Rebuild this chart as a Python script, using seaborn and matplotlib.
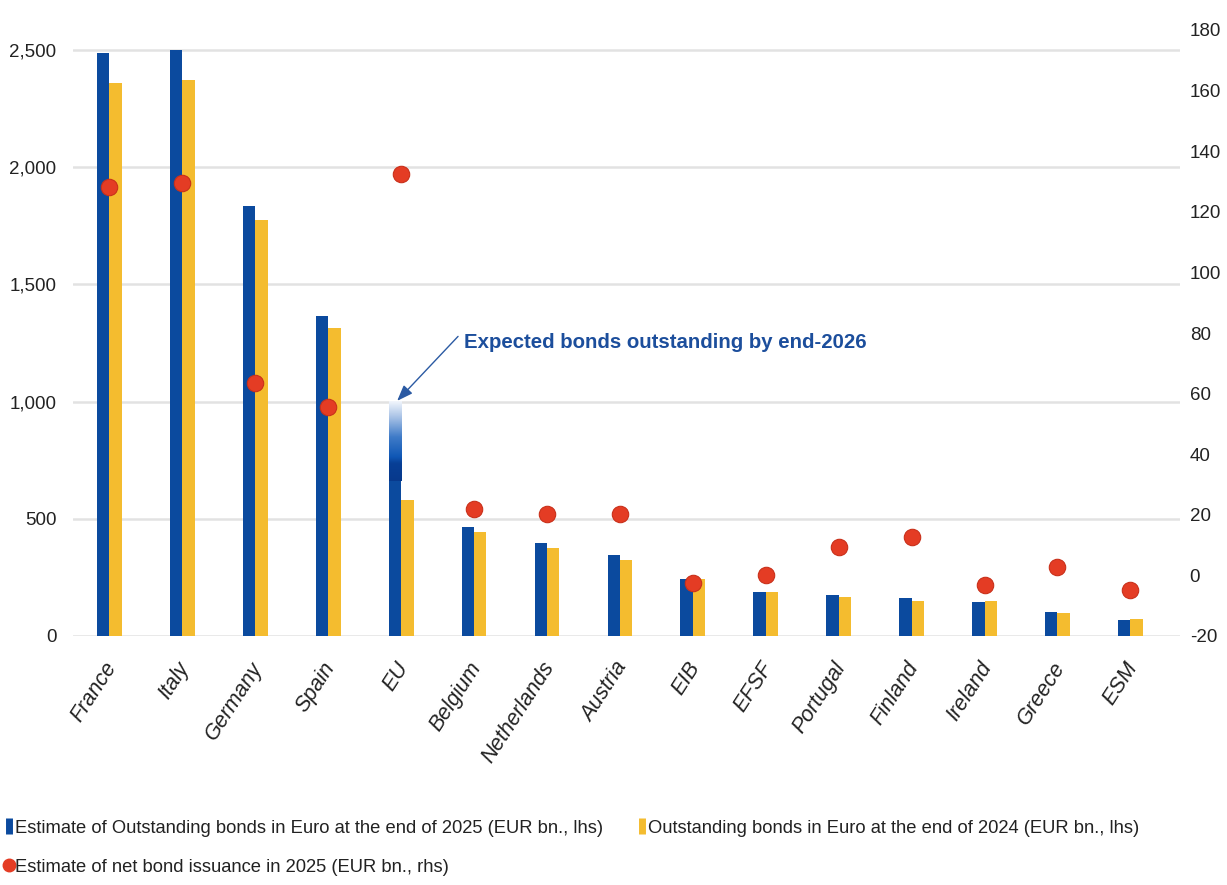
import numpy as np
import pandas as pd
import matplotlib
matplotlib.use("Agg")
import matplotlib.pyplot as plt
import seaborn as sns
from matplotlib.lines import Line2D
from matplotlib.colors import LinearSegmentedColormap
from matplotlib.transforms import ScaledTranslation

# ---------------- data ----------------
categories = ["France", "Italy", "Germany", "Spain", "EU", "Belgium", "Netherlands",
              "Austria", "EIB", "EFSF", "Portugal", "Finland", "Ireland", "Greece", "ESM"]
outstanding_2025 = [2486, 2500, 1836, 1366, 665, 466, 396, 345, 242, 187, 175, 163, 144, 101, 68]
outstanding_2024 = [2358, 2372, 1775, 1313, 580, 445, 375, 324, 245, 187, 168, 149, 149, 99, 74]
net_issuance_2025 = [128.3, 129.4, 63.4, 55.7, 132.4, 21.8, 20.3, 20.3, -2.6, 0.1, 9.5, 12.8, -3.2, 2.7, -4.8]
eu_expected_2026 = 1000
left_ticks = [0, 500, 1000, 1500, 2000, 2500]
right_ticks = [-20, 0, 20, 40, 60, 80, 100, 120, 140, 160, 180]

lab_2025 = "Estimate of Outstanding bonds in Euro at the end of 2025 (EUR bn., lhs)"
lab_2024 = "Outstanding bonds in Euro at the end of 2024 (EUR bn., lhs)"
lab_net = "Estimate of net bond issuance in 2025 (EUR bn., rhs)"
annot = "Expected bonds outstanding by end-2026"

BLUE = "#0B4A9E"
YELLOW = "#F4BC2F"
RED = "#E43C24"
GRID = "#E2E2E2"
TEXT = "#222222"

sns.set_theme(style="white")
plt.rcParams['font.family'] = ['Liberation Sans', 'DejaVu Sans']

fig = plt.figure(figsize=(12.27, 8.85), dpi=100)
ax = fig.add_axes([73/1227, 1-636/885, (1180-73)/1227, (636-30)/885])

df = pd.DataFrame({
    "country": categories * 2,
    "value": outstanding_2025 + outstanding_2024,
    "series": [lab_2025]*len(categories) + [lab_2024]*len(categories),
})
sns.barplot(data=df, x="country", y="value", hue="series", order=categories,
            hue_order=[lab_2025, lab_2024], palette=[BLUE, YELLOW],
            width=0.34, gap=0, dodge=True, saturation=1, errorbar=None,
            legend=False, ax=ax, zorder=3, linewidth=0, edgecolor="none")

# EU gradient extension (expected end-2026)
eu_i = categories.index("EU")
bar_w = 0.17
cmap = LinearSegmentedColormap.from_list("g", [
    (0.0, "#07398C"), (0.22, "#083F96"), (0.3, "#0F57B5"), (0.55, "#3F7BC8"),
    (0.8, "#A8C2E6"), (1.0, "#F2F6FC")])
grad = np.linspace(0, 1, 256).reshape(-1, 1)
ax.imshow(grad, cmap=cmap, origin="lower", aspect="auto", zorder=3,
          extent=[eu_i - bar_w, eu_i, outstanding_2025[eu_i] - 2, eu_expected_2026])

ax.set_xlim(-0.5, 14.68)
ax.set_ylim(0, 2585)
ax.set_yticks(left_ticks)
ax.set_yticklabels([f"{v:,}" for v in left_ticks])
ax.yaxis.grid(True, color=GRID, linewidth=1.8, zorder=0)
ax.xaxis.grid(False)
for s in ax.spines.values():
    s.set_visible(False)
ax.tick_params(axis="y", length=0, pad=12, labelsize=13.5, labelcolor=TEXT)
ax.tick_params(axis="x", length=0, pad=16, labelsize=15.5, labelcolor=TEXT)
ax.set_xticks(range(len(categories)))
ax.set_xticklabels(categories, rotation=57, ha="right", rotation_mode="anchor",
                   fontstyle="italic")
shift = ScaledTranslation(-6/100, 0, fig.dpi_scale_trans)
for lbl in ax.get_xticklabels():
    lbl.set_transform(lbl.get_transform() + shift)
ax.set_xlabel("")
ax.set_ylabel("")

# right axis: net issuance dots
ax2 = ax.twinx()
sns.scatterplot(x=np.arange(len(categories)), y=net_issuance_2025, ax=ax2,
                color=RED, s=140, marker="o", edgecolor="#C9301A", linewidth=0.8,
                zorder=5, legend=False)
ax2.set_ylim(-20, 180)
ax2.set_yticks(right_ticks)
ax2.set_yticklabels([str(v) for v in right_ticks])
ax2.tick_params(axis="y", length=0, pad=7, labelsize=13.5, labelcolor=TEXT)
ax2.grid(False)
for s in ax2.spines.values():
    s.set_visible(False)
ax2.set_zorder(ax.get_zorder() + 1)
ax2.patch.set_visible(False)

# annotation
ax.text(4.86, 1250, annot, color="#1C4E9C", fontsize=14.7, fontweight="bold",
        va="center", ha="left", zorder=6)
ax.annotate("", xy=(eu_i - bar_w/2 + 0.03, 1003), xytext=(4.78, 1278),
            arrowprops=dict(arrowstyle="-|>,head_length=0.8,head_width=0.3",
                            color="#2B5AA3", lw=1.0, shrinkA=0, shrinkB=0), zorder=6)

# legend
handles = [
    Line2D([], [], linestyle="none", marker="|", markersize=11, markeredgewidth=5,
           color=BLUE, label=lab_2025),
    Line2D([], [], linestyle="none", marker="o", markersize=9,
           markerfacecolor=RED, markeredgecolor=RED, label=lab_net),
    Line2D([], [], linestyle="none", marker="|", markersize=11, markeredgewidth=5,
           color=YELLOW, label=lab_2024),
]
fig.legend(handles=handles, loc="upper left", bbox_to_anchor=(0.004, 0.074),
           ncol=2, frameon=False, handlelength=0.4, handletextpad=0.15,
           columnspacing=1.9, labelspacing=1.2, borderpad=0, borderaxespad=0,
           prop={"size": 13.2}, labelcolor=TEXT)

fig.savefig("out.png", dpi=100, facecolor="white")
